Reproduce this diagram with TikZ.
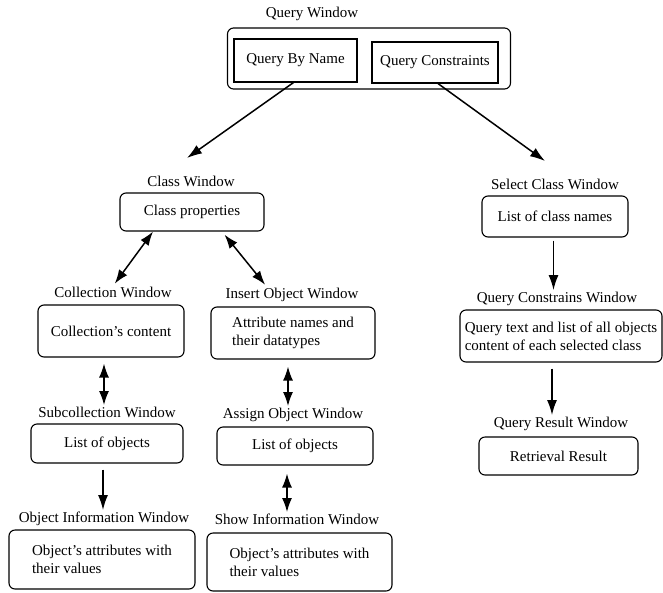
\documentclass[tikz,border=0pt]{standalone}
\usepackage{fontspec}
\setmainfont{Liberation Serif}
\usepackage{tikz}
\usetikzlibrary{arrows.meta}
\tikzstyle{win}=[draw=black, line width=1.1pt, rounded corners=6pt, inner sep=0pt]
\tikzstyle{pane}=[draw=black, line width=1.1pt, inner sep=0pt]
\tikzstyle{title}=[inner sep=1pt, text height=10.5pt, text depth=3pt]
\tikzstyle{edge}=[draw=black, line width=1.5pt, -{Latex[length=15pt,width=10pt]}]
\tikzstyle{edgeboth}=[draw=black, line width=1.5pt, {Latex[length=14pt,width=10pt]}-{Latex[length=14pt,width=10pt]}]

\begin{document}
\begin{tikzpicture}[x=1pt, y=-1pt, font=\fontsize{15}{18}\selectfont]
\useasboundingbox ( 0 , 0 ) rectangle ( 663 , 592 );
\node[title] (qwlbl) at ( 312 , 14 ){Query Window};
\node[win, minimum width=283pt, minimum height=61pt] (qw) at ( 369 , 58.5 ){};
\node[pane, minimum width=123pt, minimum height=43pt] (qbn) at ( 295.5 , 60.5 ){Query By Name};
\node[pane, minimum width=126pt, minimum height=41pt] (qc) at ( 435 , 62.5 ){Query Constraints};
\node[title] (clslbl) at ( 191 , 183 ){Class Window};
\node[win, minimum width=144pt, minimum height=38pt] (cls) at ( 192 , 212 ){Class properties};
\node[title] (collbl) at ( 113 , 294 ){Collection Window};
\node[win, minimum width=146pt, minimum height=52pt] (col) at ( 111 , 331 ){Collection's content};
\node[title] (inslbl) at ( 292 , 295 ){Insert Object Window};
\node[win, minimum width=164pt, minimum height=52pt, align=left] (ins) at ( 293 , 333 ){Attribute names and\\their datatypes};
\node[title] (sublbl) at ( 107 , 414 ){Subcollection Window};
\node[win, minimum width=152pt, minimum height=39pt] (sub) at ( 107 , 443.5 ){List of objects};
\node[title] (asglbl) at ( 293 , 415 ){Assign Object Window};
\node[win, minimum width=156pt, minimum height=38pt] (asg) at ( 295 , 446 ){List of objects};
\node[title] (oilbl) at ( 104 , 519 ){Object Information Window};
\node[win, minimum width=186pt, minimum height=59pt, align=left] (oi) at ( 102 , 559.5 ){Object's attributes with\\their values};
\node[title] (silbl) at ( 297 , 521 ){Show Information Window};
\node[win, minimum width=185pt, minimum height=58pt, align=left] (si) at ( 299.5 , 562 ){Object's attributes with\\their values};
\node[title] (sclbl) at ( 555 , 186 ){Select Class Window};
\node[win, minimum width=146pt, minimum height=41pt] (sc) at ( 555 , 216.5 ){List of class names};
\node[title] (qclbl) at ( 557 , 299 ){Query Constrains Window};
\node[win, minimum width=202pt, minimum height=52pt, align=left] (qt) at ( 561 , 336 ){Query text and list of all objects\\content of each selected class};
\node[title] (qrlbl) at ( 561 , 424 ){Query Result Window};
\node[win, minimum width=159pt, minimum height=38pt] (rr) at ( 558.5 , 456 ){Retrieval Result};
\coordinate (clstip) at ( 187 , 158 );
\coordinate (sctip) at ( 545 , 161 );
\draw[edge] ([xshift=-2pt]qbn.south) -- (clstip);
\draw[edge] ([xshift=3pt]qc.south) -- (sctip);
\draw[edgeboth, shorten >=3pt] ([xshift=-39pt]cls.south) -- (collbl.north);
\draw[edgeboth, shorten <=4pt, shorten >=3pt] ([xshift=30pt]cls.south) -- ([xshift=-25pt]inslbl.north);
\draw[edgeboth, shorten <=6pt, shorten >=1pt] ([xshift=-7pt]col.south) -- ([xshift=-7pt]col.south |- sublbl.north);
\draw[edgeboth, shorten <=7pt, shorten >=1pt] ([xshift=-5pt]ins.south) -- ([xshift=-5pt]ins.south |- asglbl.north);
\draw[edge, shorten <=6pt, shorten >=1pt] ([xshift=-4pt]sub.south) -- ([xshift=-4pt]sub.south |- oilbl.north);
\draw[edgeboth, shorten <=8pt, shorten >=1pt] ([xshift=-8pt]asg.south) -- ([xshift=-8pt]asg.south |- silbl.north);
\draw[edge, shorten <=3pt, shorten >=1pt] ([xshift=-1.5pt]sc.south) -- ([xshift=-1.5pt]sc.south |- qclbl.north);
\draw[edge, shorten <=6pt, shorten >=1pt] ([xshift=-9pt]qt.south) -- ([xshift=-9pt]qt.south |- qrlbl.north);
\end{tikzpicture}
\end{document}
